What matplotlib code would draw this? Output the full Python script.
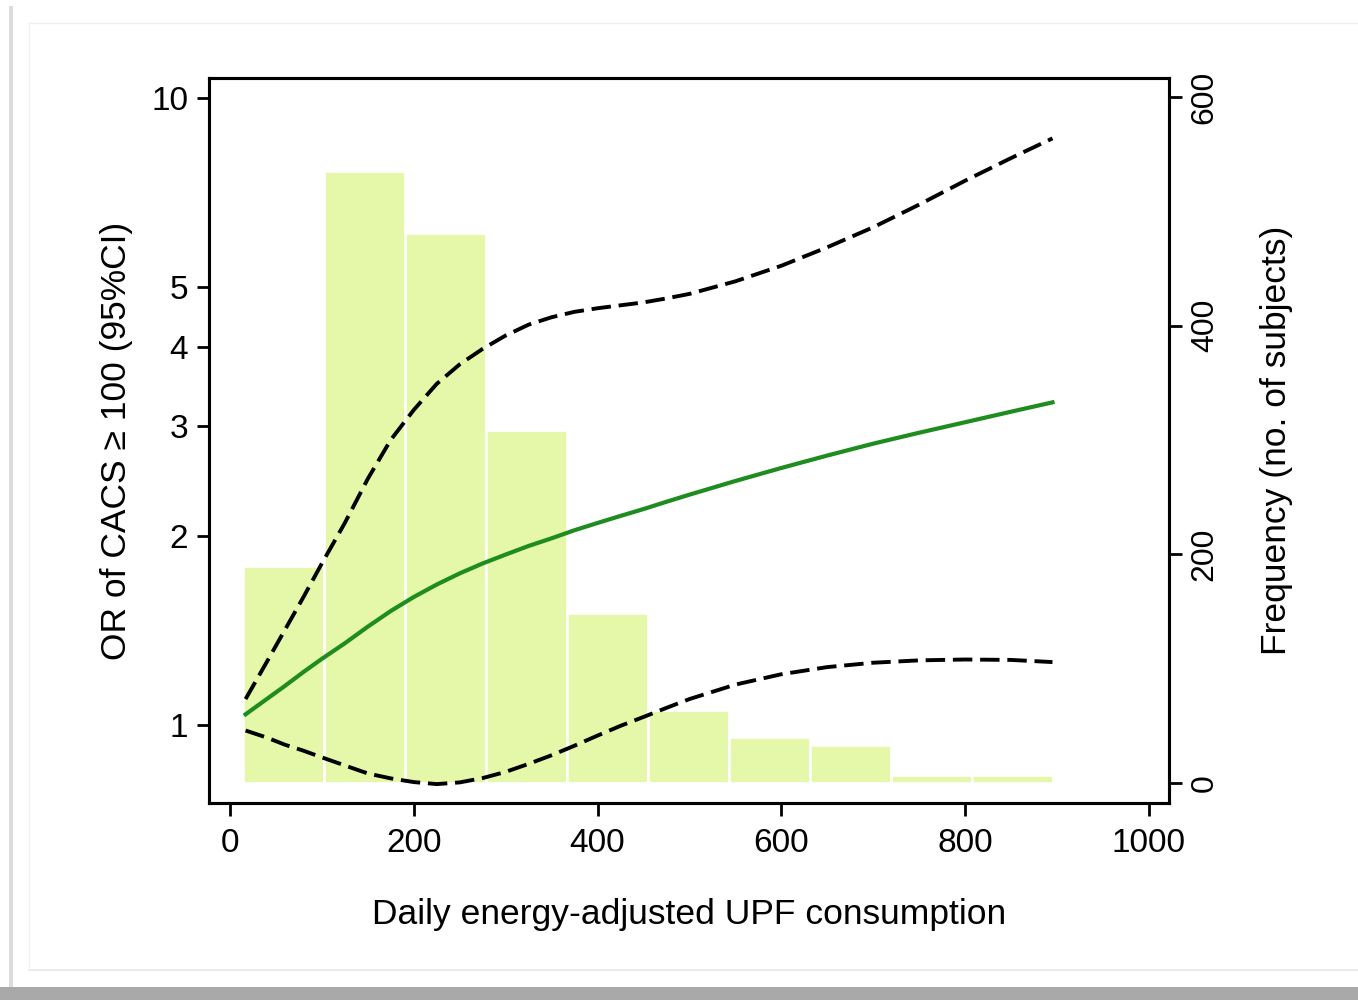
import matplotlib
matplotlib.use("Agg")
import matplotlib.pyplot as plt
from matplotlib.patches import Rectangle
from matplotlib.lines import Line2D
import numpy as np

# ---------------- data ----------------
bin_edges = [14.7, 102.8, 190.9, 279.0, 367.1, 455.2, 543.3, 631.4, 719.5, 807.6, 895.7]
frequency = [190, 535, 481, 309, 149, 64, 40, 33, 7, 7]

upf = [17, 40, 60, 80, 100, 125, 150, 175, 200, 225, 250, 275, 300, 325, 350,
       375, 400, 425, 450, 475, 500, 550, 600, 650, 700, 750, 800, 850, 895]
odds_ratio = [1.04, 1.10, 1.155, 1.215, 1.275, 1.35, 1.435, 1.52, 1.60, 1.675,
              1.745, 1.81, 1.87, 1.93, 1.985, 2.045, 2.10, 2.155, 2.21, 2.27,
              2.33, 2.45, 2.57, 2.69, 2.81, 2.925, 3.04, 3.16, 3.27]
ci_upper = [1.10, 1.26, 1.42, 1.60, 1.81, 2.10, 2.47, 2.85, 3.18, 3.50,
            3.76, 3.98, 4.18, 4.35, 4.47, 4.56, 4.62, 4.67, 4.72, 4.79,
            4.87, 5.10, 5.40, 5.78, 6.22, 6.76, 7.38, 8.02, 8.62]
ci_lower = [0.98, 0.955, 0.93, 0.91, 0.888, 0.862, 0.837, 0.822, 0.811, 0.805,
            0.81, 0.823, 0.842, 0.867, 0.895, 0.927, 0.962, 0.997, 1.03, 1.065,
            1.10, 1.16, 1.205, 1.237, 1.257, 1.268, 1.272, 1.27, 1.26]

x_ticks = [0, 200, 400, 600, 800, 1000]
or_ticks = [1, 2, 3, 4, 5, 10]
freq_ticks = [0, 200, 400, 600]

x_label = "Daily energy-adjusted UPF consumption"
or_label = "OR of CACS \u2265 100 (95%CI)"
freq_label = "Frequency (no. of subjects)"

# ---------------- figure ----------------
plt.rcParams['font.family'] = ['Liberation Sans', 'DejaVu Sans']
fig = plt.figure(figsize=(13.58, 10), dpi=100)
fig.patch.set_facecolor('white')

# card decoration (shadow / frame)
fig.patches.append(Rectangle((0, 0), 1, 0.013, transform=fig.transFigure,
                             facecolor='#a9a9a9', edgecolor='none', zorder=0))
fig.patches.append(Rectangle((0.0065, 0.013), 0.003, 0.981, transform=fig.transFigure,
                             facecolor='#dcdcdc', edgecolor='none', zorder=0))
fig.lines.append(Line2D([29/1358, 1], [0.030, 0.030], transform=fig.transFigure,
                        color='#e6e6e6', lw=1.2))
fig.lines.append(Line2D([29/1358, 29/1358], [0.030, 0.977], transform=fig.transFigure,
                        color='#f0f0f0', lw=1.0))
fig.lines.append(Line2D([29/1358, 1], [0.977, 0.977], transform=fig.transFigure,
                        color='#f0f0f0', lw=1.0))

ax = fig.add_axes([209/1358, 1-803/1000, 960/1358, 725/1000])
ax2 = ax.twinx()

# histogram on right axis
widths = np.diff(bin_edges)
ax2.bar(bin_edges[:-1], frequency, width=widths, align='edge',
        color='#e5f8a9', edgecolor='white', linewidth=1.9, zorder=1)
ax2.set_ylim(-17.5, 616.6)
ax2.set_yticks(freq_ticks)
ax2.set_yticklabels([str(t) for t in freq_ticks], rotation=90, va='center')

# curves on left axis (drawn above histogram)
ax.set_zorder(ax2.get_zorder() + 1)
ax.patch.set_visible(False)
dash = (0, (5.0, 2.0))
ax.plot(upf, ci_upper, color='black', lw=2.8, ls=dash, zorder=3)
ax.plot(upf, ci_lower, color='black', lw=2.8, ls=dash, zorder=3)
ax.plot(upf, odds_ratio, color='#1e8c1e', lw=3.0, zorder=4,
        solid_joinstyle='round')

ax.set_yscale('log')
ax.set_ylim(0.751, 10.76)
ax.set_xlim(-22.8, 1021.8)
ax.set_yticks(or_ticks)
ax.set_yticklabels([str(t) for t in or_ticks])
ax.yaxis.set_minor_locator(matplotlib.ticker.NullLocator())
ax.set_xticks(x_ticks)
ax.set_xticklabels([str(t) for t in x_ticks])

for a in (ax, ax2):
    for s in a.spines.values():
        s.set_linewidth(2.2)
        s.set_color('black')

ax.tick_params(axis='both', which='major', direction='out', length=9, width=2.0,
               labelsize=24, pad=6, color='black')
ax.tick_params(axis='x', pad=9)
ax2.tick_params(axis='y', direction='out', length=9, width=2.0, labelsize=23, pad=6)

ax.set_xlabel(x_label, fontsize=25.5, labelpad=28)
ax.set_ylabel(or_label, fontsize=25.5, labelpad=13)
ax2.set_ylabel(freq_label, fontsize=25.5, labelpad=29, rotation=90)

fig.savefig('out.png', dpi=100)
